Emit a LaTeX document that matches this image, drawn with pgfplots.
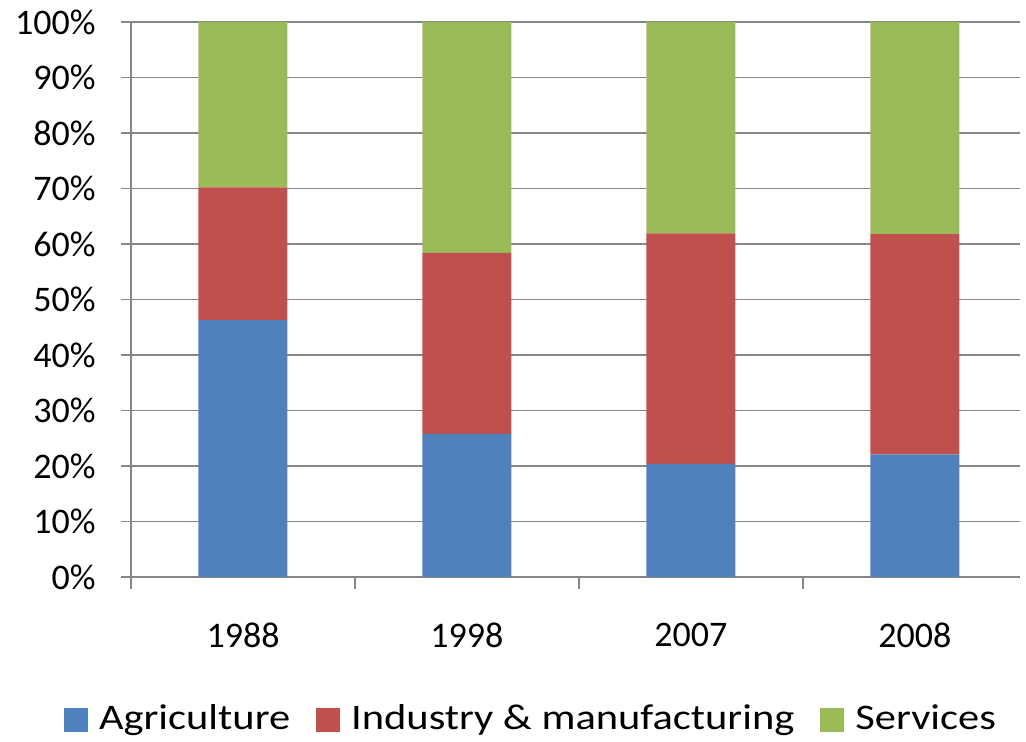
\documentclass[border=0pt]{standalone}
\usepackage{pgfplots}
\pgfplotsset{compat=1.18}
\usepackage{fontspec}
\setmainfont{Carlito}
\newfontfamily\legfont[FakeStretch=1.18]{Carlito}
\definecolor{agri}{HTML}{4F81BD}
\definecolor{ind}{HTML}{C0504D}
\definecolor{serv}{HTML}{9BBB59}
\definecolor{gridc}{HTML}{868686}
\begin{document}
\fontsize{18}{22}\selectfont
\begin{tikzpicture}
\useasboundingbox (-65.5pt,-82.5pt) rectangle (447.5pt,288.5pt);
\begin{axis}[at={(0,0)}, anchor=south west, scale only axis,
 width=444.5pt, height=277.5pt,
 ybar stacked, bar width=44.5pt,
 xmin=-0.5, xmax=3.469, ymin=0, ymax=100,
 axis x line*=bottom, axis y line*=left,
 axis line style={-, gridc, line width=0.8pt},
 xtick={0,1,2,3}, xticklabels={1988,1998,2007,2008},
 minor xtick={-0.5,0.5,1.5,2.5},
 major x tick style={draw=none},
 ytick={0,10,...,100},
 /pgf/number format/assume math mode=true,
 yticklabel={\pgfmathprintnumber{\tick}\%},
 ymajorgrids, grid style={gridc, line width=0.8pt},
 tick style={gridc, line width=0.8pt},
 tick align=outside, xtick pos=bottom, ytick pos=left,
 major tick length=5pt, minor tick length=6pt,
 tick label style={font=\fontsize{18}{22}\selectfont, text=black},
 yticklabel style={xshift=-6.5pt},
 xticklabel style={yshift=-12pt},
 legend style={at={(0.4488,-0.2577)}, anchor=center, draw=none, fill=none,
   legend columns=3, font=\legfont\fontsize{18}{22}\selectfont,
   nodes={inner xsep=0pt},
   /tikz/every odd column/.append style={column sep=5.5pt},
   /tikz/every even column/.append style={column sep=13pt}},
 legend image code/.code={\fill[#1] (0pt,-6pt) rectangle (12pt,6pt);},
]
\addplot[fill=agri, draw=none] coordinates {(0,46.3) (1,25.8) (2,20.4) (3,22.1)};
\addplot[fill=ind, draw=none] coordinates {(0,23.9) (1,32.6) (2,41.5) (3,39.7)};
\addplot[fill=serv, draw=none] coordinates {(0,29.8) (1,41.6) (2,38.1) (3,38.2)};
\legend{Agriculture, Industry \& manufacturing, Services}
\end{axis}
\end{tikzpicture}
\end{document}
